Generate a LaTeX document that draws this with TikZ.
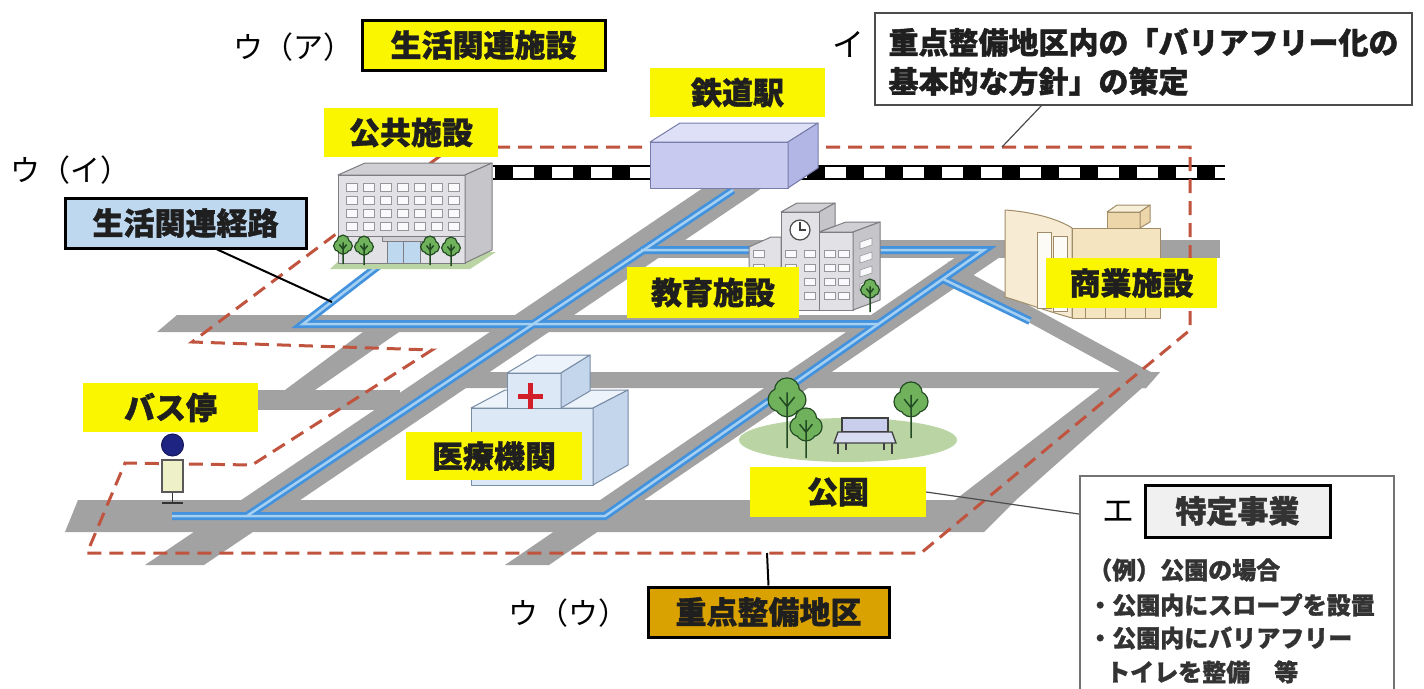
\documentclass[tikz,border=0pt]{standalone}
\usepackage{fontspec}
\setmainfont{Noto Sans CJK JP}[BoldFeatures={FakeBold=1.2}]
\definecolor{roadgray}{RGB}{162,162,162}
\definecolor{routeblue}{RGB}{66,146,222}
\definecolor{routelight}{RGB}{165,208,242}
\definecolor{zoneline}{RGB}{192,84,62}
\definecolor{labelyellow}{RGB}{250,246,0}
\definecolor{keiroblue}{RGB}{190,216,240}
\definecolor{jutengold}{RGB}{218,162,0}
\definecolor{tokugray}{RGB}{240,240,240}
\definecolor{stfront}{RGB}{200,202,240}
\definecolor{sttop}{RGB}{222,224,248}
\definecolor{stside}{RGB}{178,182,228}
\definecolor{stedge}{RGB}{120,124,170}
\definecolor{bldfront}{RGB}{226,226,230}
\definecolor{bldside}{RGB}{198,198,202}
\definecolor{bldtop}{RGB}{208,208,212}
\definecolor{bldedge}{RGB}{125,125,130}
\definecolor{winfill}{RGB}{250,250,253}
\definecolor{hosfront}{RGB}{220,232,246}
\definecolor{hosside}{RGB}{196,214,236}
\definecolor{hostop}{RGB}{236,243,251}
\definecolor{hosedge}{RGB}{120,140,165}
\definecolor{shofront}{RGB}{244,228,192}
\definecolor{shoside}{RGB}{236,214,170}
\definecolor{shoedge}{RGB}{160,140,105}
\definecolor{treefill}{RGB}{112,178,92}
\definecolor{treeedge}{RGB}{35,75,35}
\definecolor{lawn}{RGB}{186,212,164}
\definecolor{benchfill}{RGB}{200,206,236}
\definecolor{busnavy}{RGB}{30,36,130}
\definecolor{busbody}{RGB}{238,240,200}
\definecolor{crossred}{RGB}{210,30,40}
\newcommand{\treecrown}[3]{%
  ({#1},{#2-0.4*#3}) circle [radius={0.62*#3*1pt}]
  ({#1-0.38*#3},{#2+0.1*#3}) circle [radius={0.58*#3*1pt}]
  ({#1+0.38*#3},{#2+0.1*#3}) circle [radius={0.58*#3*1pt}]
  ({#1},{#2+0.35*#3}) circle [radius={0.6*#3*1pt}]}
\newcommand{\drawtree}[4]{%
  \draw[treeedge, line width=2.6pt] \treecrown{#1}{#2}{#3};
  \fill[treefill] \treecrown{#1}{#2}{#3};
  \draw[treeedge, line width=1.5pt] (#1,#4) -- (#1,{#2-0.3*#3})
     (#1,{#2+0.45*#3}) -- ({#1-0.4*#3},{#2-0.05*#3})
     (#1,{#2+0.45*#3}) -- ({#1+0.4*#3},{#2-0.05*#3});
}
\begin{document}
\begin{tikzpicture}[x=1pt,y=-1pt,
  roadpart/.style={fill=roadgray, draw=none},
  routeo/.style={draw=routeblue, line width=8pt, line join=miter},
  routei/.style={draw=routelight, line width=2.5pt, line join=miter},
  zone/.style={draw=zoneline, line width=3pt, dash pattern=on 14pt off 8pt, line join=miter},
  ylab/.style={fill=labelyellow, inner sep=0pt, text=black!88, font=\fontsize{31pt}{36pt}\selectfont\bfseries},
  boxframe/.style={draw=black, line width=3pt},
  plaintxt/.style={inner sep=0pt, text=black, font=\fontsize{30pt}{36pt}\selectfont},
  etxt/.style={inner sep=0pt, anchor=west, text=black!80, font=\fontsize{24pt}{30pt}\selectfont\bfseries},
  leader/.style={draw=black, line width=2pt},
  thinleader/.style={draw=black!70, line width=1.2pt},
  stface/.style={draw=stedge, line width=1pt, line join=round},
  bface/.style={draw=bldedge, line width=1pt, line join=round},
  hface/.style={draw=hosedge, line width=1pt, line join=round},
  sface/.style={draw=shoedge, line width=1pt, line join=round},
  win/.style={fill=winfill, draw=bldedge!80, line width=0.6pt}
]
\useasboundingbox (0,0) rectangle (1424,688);
\fill[white] (0,0) rectangle (1424,688);

% ---------- roads ----------
\fill[roadpart] (177,315) -- (880,315) -- (880,332) -- (157,332) -- cycle;      % A
\fill[roadpart] (645,240) -- (1220,240) -- (1220,258) -- (645,258) -- cycle;    % B
\fill[roadpart] (250,390) -- (400,390) -- (400,410) -- (250,410) -- cycle;      % C left
\fill[roadpart] (430,372) -- (1160,372) -- (1146,388) -- (420,388) -- cycle;    % C right
\fill[roadpart] (78,500) -- (1016,500) -- (984,532) -- (65,532) -- cycle;       % D bottom
\fill[roadpart] (703,188) -- (762,188) -- (204,565) -- (145,565) -- cycle;      % E main diagonal
\fill[roadpart] (978,242) -- (1022,242) -- (549,565) -- (505,565) -- cycle;     % F middle diagonal
\draw[roadgray, line width=15pt] (945,268) -- (1150,380);                       % G
\fill[roadpart] (1160,372) -- (1016,500) -- (955,500) -- (1100,388) -- (1146,388) -- cycle; % H
\fill[roadpart] (363,332) -- (399,332) -- (315,390) -- (285,390) -- cycle;      % I

% ---------- railroad ----------
\draw[black, line width=1.5pt] (493,166) -- (1225,166) (493,179) -- (1225,179);
\draw[black, line width=11pt, dash pattern=on 18pt off 21pt] (495,172.5) -- (1225,172.5);

% ---------- district boundary ----------
\draw[zone] (452,147) -- (1190,147) -- (1190,330) -- (921,553) -- (87,553) -- (125,463) -- (252,465) -- (432,350) -- (192,342) -- cycle;

% ---------- routes ----------
\draw[routeo] (172,516) -- (605,516) -- (984,250) -- (641,250);
\draw[routeo] (733,190) -- (247,516);
\draw[routeo] (382,263) -- (303,324) -- (879,324);
\draw[routeo] (943,279) -- (1030,321);
\draw[routei] (172,516) -- (605,516) -- (984,250) -- (641,250);
\draw[routei] (733,190) -- (247,516);
\draw[routei] (382,263) -- (303,324) -- (879,324);
\draw[routei] (943,279) -- (1030,321);

% ---------- public facility building ----------
\fill[lawn] (330,269) -- (345,255) -- (496,252) -- (470,269) -- cycle;
\filldraw[fill=bldtop, bface] (338,175) -- (365,163) -- (492,163) -- (465,175) -- cycle;
\filldraw[fill=bldfront, bface] (338,175) rectangle (465,263);
\filldraw[fill=bldside, bface] (465,175) -- (492,163) -- (492,250) -- (465,263) -- cycle;
\foreach \i in {0,...,6} \foreach \j in {0,...,3}
  \filldraw[win] ({346+17*\i},{183+13*\j}) rectangle +(11,8);
\draw[bldedge, line width=0.8pt] (338,236) -- (465,236);
\filldraw[fill=bldtop, bface] (382,236) rectangle (425,241);
\filldraw[fill=keiroblue, draw=bldedge, line width=0.8pt] (387,241) rectangle (420,263);
\draw[bldedge, line width=0.8pt] (403.5,241) -- (403.5,263);
\drawtree{343}{245}{9}{264}
\drawtree{364}{246}{9}{265}
\drawtree{430}{246}{9}{265}
\drawtree{451}{247}{9}{266}

% ---------- station ----------
\filldraw[fill=sttop, stface] (650,142) -- (680,123) -- (818,123) -- (788,142) -- cycle;
\filldraw[fill=stfront, stface] (650,142) rectangle (788,188);
\filldraw[fill=stside, stface] (788,142) -- (818,123) -- (818,168) -- (788,188) -- cycle;

% ---------- school ----------
\filldraw[fill=bldfront, bface] (749,247) -- (771,237) -- (781,237) -- (781,310) -- (749,310) -- cycle;
\filldraw[fill=bldtop, bface] (819,232) -- (846,222) -- (880,222) -- (853,232) -- cycle;
\filldraw[fill=bldfront, bface] (819,232) rectangle (853,310);
\filldraw[fill=bldside, bface] (853,232) -- (880,222) -- (880,300) -- (853,310) -- cycle;
\filldraw[fill=bldtop, bface] (781,212) -- (797,203) -- (835,203) -- (819,212) -- cycle;
\filldraw[fill=bldside, bface] (819,212) -- (835,203) -- (835,226) -- (819,232) -- cycle;
\filldraw[fill=bldfront, bface] (781,212) rectangle (819,310);
\filldraw[fill=white, draw=black!70, line width=1.2pt] (800,230) circle [radius=10pt];
\draw[black!75, line width=1.2pt] (800,222) -- (800,230) -- (806,230);
\foreach \x in {753,785,804,824,838} \foreach \y in {250,264,278,292}
  \filldraw[win] (\x,\y) rectangle +(11,7);
\foreach \y in {240,254,268,282}
  \filldraw[win] (860,{\y+2}) -- (872,{\y-2}) -- (872,{\y+5}) -- (860,{\y+9}) -- cycle;
\drawtree{870}{289}{9}{312}

% ---------- commercial ----------
\filldraw[fill=shofront!70!white, sface] (1005,210) .. controls (1035,212) and (1060,220) .. (1072,228) -- (1072,318) .. controls (1050,312) and (1025,303) .. (1005,297) -- cycle;
\filldraw[fill=shofront, sface] (1072,228) rectangle (1160,318);
\filldraw[fill=white!85!shofront, draw=shoedge, line width=0.8pt] (1037,232) rectangle (1051,308);
\filldraw[fill=white!85!shofront, draw=shoedge, line width=0.8pt] (1053,236) rectangle (1067,311);
\filldraw[fill=shoside, sface] (1107,212) rectangle (1140,228);
\filldraw[fill=shofront!60!white, sface] (1107,212) -- (1117,205) -- (1150,205) -- (1140,212) -- cycle;
\filldraw[fill=shoside, sface] (1140,212) -- (1150,205) -- (1150,222) -- (1140,228) -- cycle;
\foreach \x in {1085,1105,1125,1145} \draw[shoedge, line width=0.8pt] (\x,300) -- (\x,318);

% ---------- hospital ----------
\filldraw[fill=hostop, hface] (471,408) -- (505,390) -- (628,390) -- (593,408) -- cycle;
\filldraw[fill=hosfront, hface] (471,408) rectangle (593,485);
\filldraw[fill=hosside, hface] (593,408) -- (628,390) -- (628,465) -- (593,485) -- cycle;
\filldraw[fill=hostop, hface] (507,373) -- (537,355) -- (590,355) -- (561,373) -- cycle;
\filldraw[fill=hosfront, hface] (507,373) rectangle (561,408);
\filldraw[fill=hosside, hface] (561,373) -- (590,355) -- (590,391) -- (561,408) -- cycle;
\fill[crossred] (528,383) rectangle (533,409);
\fill[crossred] (518,393.5) rectangle (543,398.5);

% ---------- park ----------
\fill[lawn] (848,440) ellipse [x radius=109pt, y radius=22pt];
\drawtree{787}{398}{19}{448}
\drawtree{806}{425}{16}{458}
\drawtree{911}{400}{17}{438}
\draw[black!75, line width=1.3pt] (838,443) -- (838,454) (892,443) -- (892,454) (846,443) -- (846,450) (884,443) -- (884,450);
\filldraw[fill=benchfill, draw=black!75, line width=1.3pt] (842,418) rectangle (888,432);
\filldraw[fill=benchfill!70!white, draw=black!75, line width=1.3pt] (838,432) -- (892,432) -- (896,443) -- (834,443) -- cycle;

% ---------- bus stop ----------
\draw[black!80, line width=1.5pt] (172.5,492) -- (172.5,503) (162,503) -- (183,503);
\filldraw[fill=busbody, draw=black!65, line width=1.2pt] (162,460) rectangle (183,492);
\filldraw[fill=busnavy, draw=busnavy!70!black, line width=1pt] (172.5,445) circle [radius=11pt];

% ---------- labels ----------
\node[plaintxt] (uA) at (293,47) {ウ（ア）};
\node[ylab, boxframe, minimum width=243pt, minimum height=50pt] (seikatsu) at (483.5,45) {生活関連施設};
\node[plaintxt, font=\fontsize{32pt}{36pt}\selectfont] (iT) at (848,44) {イ};
\node[draw=black!70, line width=2.5pt, fill=white, minimum width=537pt, minimum height=92pt, inner sep=0pt] (ibox) at (1143.5,59) {};
\node[inner sep=0pt, align=left, text=black!88, font=\fontsize{30pt}{39pt}\selectfont\bfseries] (itext) at (1143.5,62) {重点整備地区内の「バリアフリー化の\\基本的な方針」の策定\hphantom{重点整備地区内}};
\node[ylab, minimum width=175pt, minimum height=49pt] (eki) at (737.5,92.5) {鉄道駅};
\node[ylab, minimum width=174pt, minimum height=49pt] (koukyou) at (411,132.5) {公共施設};
\node[plaintxt] (uI) at (70,170) {ウ（イ）};
\node[ylab, boxframe, fill=keiroblue, minimum width=241pt, minimum height=50pt] (keiro) at (185.5,223) {生活関連経路};
\node[ylab, minimum width=172pt, minimum height=51pt] (kyouiku) at (713,292.5) {教育施設};
\node[ylab, minimum width=171pt, minimum height=50pt] (shougyou) at (1131.5,283) {商業施設};
\node[ylab, minimum width=175pt, minimum height=49pt] (bus) at (170.5,407.5) {バス停};
\node[ylab, minimum width=176pt, minimum height=48pt] (iryou) at (494,456) {医療機関};
\node[ylab, minimum width=176pt, minimum height=50pt] (kouen) at (838,492) {公園};
\node[plaintxt] (uU) at (568,613) {ウ（ウ）};
\node[ylab, boxframe, fill=jutengold, minimum width=241pt, minimum height=50pt] (juten) at (768.5,612) {重点整備地区};

% ---------- specific project box ----------
\node[draw=black!55, line width=2pt, fill=white, minimum width=314pt, minimum height=240pt, anchor=north west, inner sep=0pt] (ebox) at (1079,475) {};
\node[plaintxt, font=\fontsize{32pt}{36pt}\selectfont] (eT) at (1118,512) {エ};
\node[ylab, boxframe, fill=tokugray, text=black!80, minimum width=185pt, minimum height=52pt] (tokutei) at (1237.5,511) {特定事業};
\node[etxt] (e1) at (1088,570) {（例）公園の場合};
\node[etxt] (e2) at (1088,605) {・公園内にスロープを設置};
\node[etxt] (e3) at (1088,638) {・公園内にバリアフリー};
\node[etxt] (e4) at (1106,672) {トイレを整備　等};

% ---------- leaders ----------
\coordinate (keiroEnd) at (332,302);
\coordinate (keiroStart) at (214,248);
\coordinate (iStart) at (1042,105);
\coordinate (iEnd) at (1002,147);
\coordinate (eLeft) at (1079,514);
\coordinate (zoneBottom) at (767,553);
\draw[leader] (keiroStart) -- (keiroEnd);
\draw[thinleader] (iStart) -- (iEnd);
\draw[thinleader] (kouen.east) -- (eLeft);
\draw[leader] (zoneBottom) -- (juten.north);
\end{tikzpicture}
\end{document}
